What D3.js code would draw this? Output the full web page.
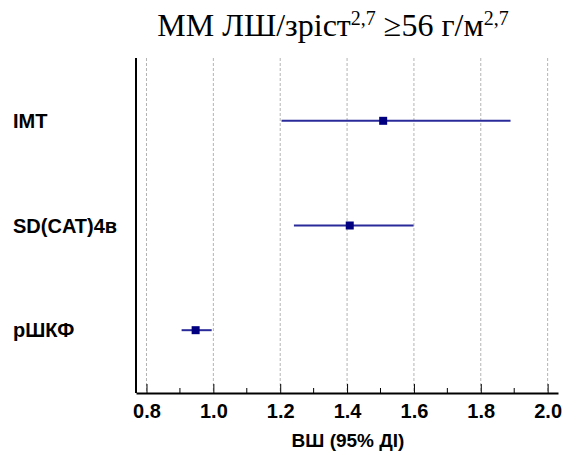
<!DOCTYPE html>
<html>
<head>
<meta charset="utf-8">
<script src="https://cdn.jsdelivr.net/npm/d3@7"></script>
<style>
  html, body { margin: 0; padding: 0; background: #fff; }
  svg { display: block; }
</style>
</head>
<body>
<svg id="chart" width="565" height="457"></svg>
<script>
// Odds ratios with 95% confidence intervals
const factors = ["IMT", "SD(CAT)4в", "рШКФ"];
const oddsRatio = [1.508, 1.408, 0.947];
const ciLow = [1.204, 1.241, 0.905];
const ciHigh = [1.889, 1.599, 0.995];
const majorTicks = [0.8, 1.0, 1.2, 1.4, 1.6, 1.8, 2.0];
const minorTicks = [0.9, 1.1, 1.3, 1.5, 1.7, 1.9];

const svg = d3.select("#chart");
const plotLeft = 136, plotRight = 558, plotTop = 58, plotBottom = 393;

const x = d3.scaleLinear().domain([0.7686, 2.031]).range([plotLeft, plotRight]);
const y = d3.scalePoint().domain(factors).range([plotTop, plotBottom]).padding(0.6);

// Title
const title = svg.append("text")
  .attr("x", 333).attr("y", 36)
  .attr("text-anchor", "middle")
  .style("font-family", "'Liberation Serif', 'Times New Roman', serif")
  .style("font-size", "32px")
  .attr("fill", "#000");
title.append("tspan").text("ММ ЛШ/зріст");
title.append("tspan").attr("dy", -11).style("font-size", "20px").text("2,7");
title.append("tspan").attr("dy", 11).text(" ≥56 г/м");
title.append("tspan").attr("dy", -11).style("font-size", "20px").text("2,7");

// Vertical dashed gridlines
svg.append("g").selectAll("line").data(majorTicks).join("line")
  .attr("x1", d => x(d)).attr("x2", d => x(d))
  .attr("y1", plotTop).attr("y2", plotBottom)
  .attr("stroke", "#b4b4b4").attr("stroke-width", 1)
  .attr("stroke-dasharray", "3,2");

// Minor ticks (inside)
svg.append("g").selectAll("line").data(minorTicks).join("line")
  .attr("x1", d => x(d)).attr("x2", d => x(d))
  .attr("y1", plotBottom - 5).attr("y2", plotBottom)
  .attr("stroke", "#000").attr("stroke-width", 1);

// X axis
const xAxis = d3.axisBottom(x).tickValues(majorTicks).tickFormat(d3.format(".1f"))
  .tickSizeInner(-9).tickSizeOuter(0).tickPadding(11);
const gx = svg.append("g").attr("transform", `translate(0,${plotBottom})`).call(xAxis);
gx.select(".domain").attr("stroke", "#000").attr("stroke-width", 2);
gx.selectAll(".tick line").attr("stroke", "#000").attr("stroke-width", 1);
gx.selectAll(".tick text")
  .style("font-family", "'Liberation Sans', Arial, sans-serif")
  .style("font-size", "20px").style("font-weight", "bold").attr("fill", "#000");

// Y axis line
svg.append("line")
  .attr("x1", plotLeft).attr("x2", plotLeft).attr("y1", plotTop).attr("y2", plotBottom)
  .attr("stroke", "#000").attr("stroke-width", 2);

// Axis title
svg.append("text")
  .attr("x", 348).attr("y", 447)
  .attr("text-anchor", "middle")
  .style("font-family", "'Liberation Sans', Arial, sans-serif")
  .style("font-size", "19px").style("font-weight", "bold")
  .text("ВШ (95% ДІ)");

// Row labels
svg.append("g").selectAll("text").data(factors).join("text")
  .attr("x", 13).attr("y", d => y(d)).attr("dy", "0.35em")
  .style("font-family", "'Liberation Sans', Arial, sans-serif")
  .style("font-size", "20px").style("font-weight", "bold")
  .text(d => d);

// Confidence intervals
const rows = factors.map((f, i) => ({ f, or: oddsRatio[i], lo: ciLow[i], hi: ciHigh[i] }));
svg.append("g").selectAll("line").data(rows).join("line")
  .attr("x1", d => x(d.lo)).attr("x2", d => x(d.hi))
  .attr("y1", d => y(d.f)).attr("y2", d => y(d.f))
  .attr("stroke", "#2a2a9a").attr("stroke-width", 2);

// Point estimates
svg.append("g").selectAll("rect").data(rows).join("rect")
  .attr("x", d => x(d.or) - 4).attr("y", d => y(d.f) - 4)
  .attr("width", 8).attr("height", 8)
  .attr("fill", "#000080");
</script>
</body>
</html>
